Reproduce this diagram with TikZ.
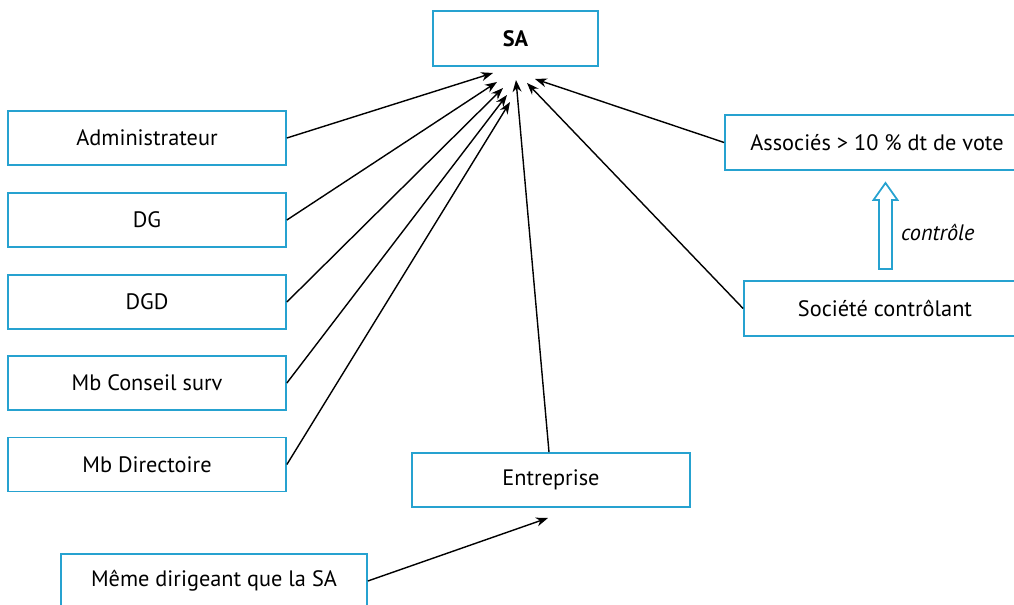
\documentclass[tikz,border=0pt]{standalone}
\usepackage{fontspec}
\setmainfont{PT Sans}
\usetikzlibrary{arrows.meta,calc}
\definecolor{bleucadre}{RGB}{38,162,208}
\begin{document}
\begin{tikzpicture}[font=\fontsize{12.7}{15}\selectfont,
	boite/.style={draw=bleucadre, line width=1pt, minimum width=5.56cm, minimum height=1.08cm, inner sep=0pt},
	fleche/.style={line width=0.8pt, -{Stealth[length=2.4mm,width=1.8mm]}}]
		\useasboundingbox (0,0) rectangle (20.28,12.10);
		\begin{scope}
		\clip (0,0) rectangle (20.28,12.10);
		\node[boite, minimum width=3.3cm, minimum height=1.1cm, font=\fontsize{12.7}{15}\selectfont\bfseries] (sa) at (10.31,11.33) {SA};
		\node[boite] (admin) at (2.94,9.34) {Administrateur};
		\node[boite] (dg) at (2.94,7.70) {DG};
		\node[boite] (dgd) at (2.94,6.06) {DGD};
		\node[boite] (conseil) at (2.94,4.44) {Mb Conseil surv};
		\node[boite] (directoire) at (2.94,2.81) {Mb Directoire};
		\node[boite] (entreprise) at (11.02,2.50) {Entreprise};
		\node[boite, minimum width=6.12cm] (meme) at (4.28,0.48) {Même dirigeant que la SA};
		\node[boite, minimum width=6.08cm, minimum height=1.1cm] (associes) at (17.54,9.25) {Associés > 10 \% dt de vote};
		\node[boite, minimum width=5.64cm, minimum height=1.1cm] (societe) at (17.70,5.93) {Société contrôlant};
		\end{scope}
		% points d'arrivee sous la SA
		\coordinate (tadmin) at (9.86,10.64);
		\coordinate (tdg) at (9.94,10.46);
		\coordinate (tdgd) at (10.06,10.34);
		\coordinate (tconseil) at (10.14,10.20);
		\coordinate (tdirectoire) at (10.20,10.06);
		\coordinate (tentreprise) at (10.32,10.50);
		\coordinate (tsociete) at (10.54,10.44);
		\coordinate (tassocies) at (10.70,10.52);
		\coordinate (tmeme) at (10.96,1.74);
		\draw[fleche] (admin.east) -- (tadmin);
		\draw[fleche] (dg.east) -- (tdg);
		\draw[fleche] (dgd.east) -- (tdgd);
		\draw[fleche] (conseil.east) -- (tconseil);
		\draw[fleche] (directoire.east) -- (tdirectoire);
		\draw[fleche] (entreprise.north -| 10.98,0) -- (tentreprise);
		\draw[fleche] (societe.west) -- (tsociete);
		\draw[fleche] (associes.west) -- (tassocies);
		\draw[fleche] (meme.east) -- (tmeme);
		% controle
		\coordinate (ctrlbas) at (17.71,6.72);
		\draw[bleucadre, line width=1pt, line join=miter] (ctrlbas) ++(-0.13,0) -- ++(0,1.38) -- ++(-0.11,0)
			-- ++(0.24,0.34) -- ++(0.24,-0.34) -- ++(-0.11,0) -- ++(0,-1.38) -- cycle;
		\node[font=\fontsize{12.7}{15}\selectfont\itshape, anchor=west] (ctrllabel) at (17.90,7.46) {contrôle};
\end{tikzpicture}
\end{document}
